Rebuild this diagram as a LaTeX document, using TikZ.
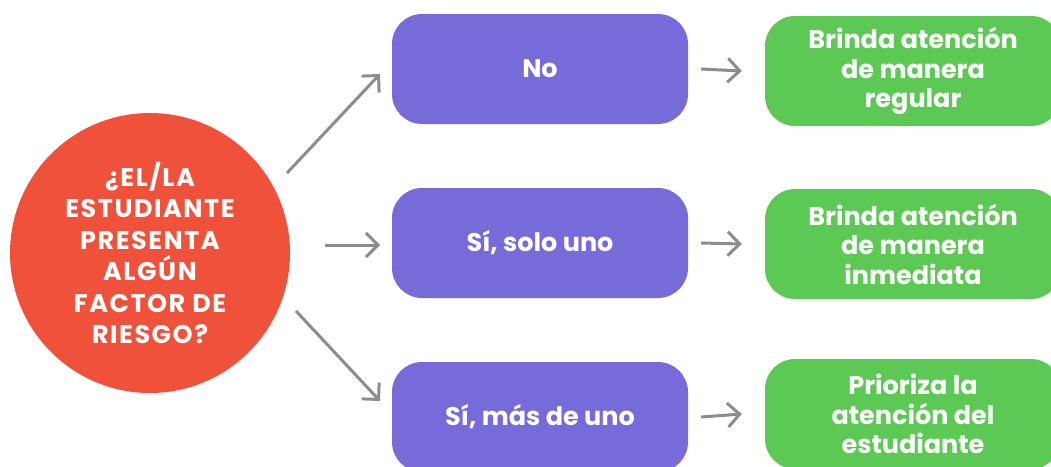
\documentclass[tikz,border=0pt]{standalone}
\usepackage{fontspec}
\setmainfont{Poppins}
\newfontfamily\circfont{Poppins}[LetterSpace=6]
\usetikzlibrary{arrows.meta}
\definecolor{circfill}{HTML}{F0513A}
\definecolor{purpfill}{HTML}{766BD9}
\definecolor{greenfill}{HTML}{5CC954}
\definecolor{arrowgray}{HTML}{8C8C8C}
\begin{document}
\begin{tikzpicture}[x=1pt,y=-1pt,
  question/.style={circle,fill=circfill,minimum size=280pt,inner sep=0pt,text=white,
    font=\circfont\fontsize{25.5}{31.5}\selectfont\bfseries,align=center},
  answer/.style={rectangle,rounded corners=30pt,fill=purpfill,minimum width=296pt,minimum height=110pt,
    text=white,font=\fontsize{25.5}{29.5}\selectfont\bfseries,align=center,inner sep=0pt},
  action/.style={rectangle,rounded corners=30pt,fill=greenfill,minimum width=296pt,minimum height=110pt,
    text=white,font=\fontsize{25.5}{29.5}\selectfont\bfseries,align=center,inner sep=0pt},
  link/.style={draw=arrowgray,line width=3pt,-{Straight Barb[length=12pt,width=24pt,line width=3pt]}}
]
\useasboundingbox (0,0) rectangle (1051,466);
\clip (0,0) rectangle (1051,466);
\node[question] (q) at (150,253) {¿EL/LA\\ESTUDIANTE\\PRESENTA\\ALGÚN\\FACTOR DE\\RIESGO?};
\node[answer] (a1) at (540,69) {No};
\node[answer] (a2) at (540,243) {Sí, solo uno};
\node[answer] (a3) at (540,417) {Sí, más de uno};
\node[action] (g1) at (913,71) {Brinda atención\\de manera\\regular};
\node[action] (g2) at (913,244) {Brinda atención\\de manera\\inmediata};
\node[action] (g3) at (913,414) {Prioriza la\\atención del\\estudiante};
\coordinate (s1) at (287,173);
\coordinate (e1) at (380,74);
\coordinate (s2) at (325,245);
\coordinate (e2) at (380,245);
\coordinate (s3) at (296,311);
\coordinate (e3) at (380,401);
\draw[link] (s1) -- (e1);
\draw[link] (s2) -- (e2);
\draw[link] (s3) -- (e3);
\draw[link] ([xshift=13pt]a1.east) -- ([xshift=-23pt]g1.west);
\draw[link] ([xshift=13pt]a2.east) -- ([xshift=-23pt]g2.west);
\draw[link] ([xshift=13pt]a3.east) -- ([xshift=-23pt]g3.west);
\end{tikzpicture}
\end{document}
